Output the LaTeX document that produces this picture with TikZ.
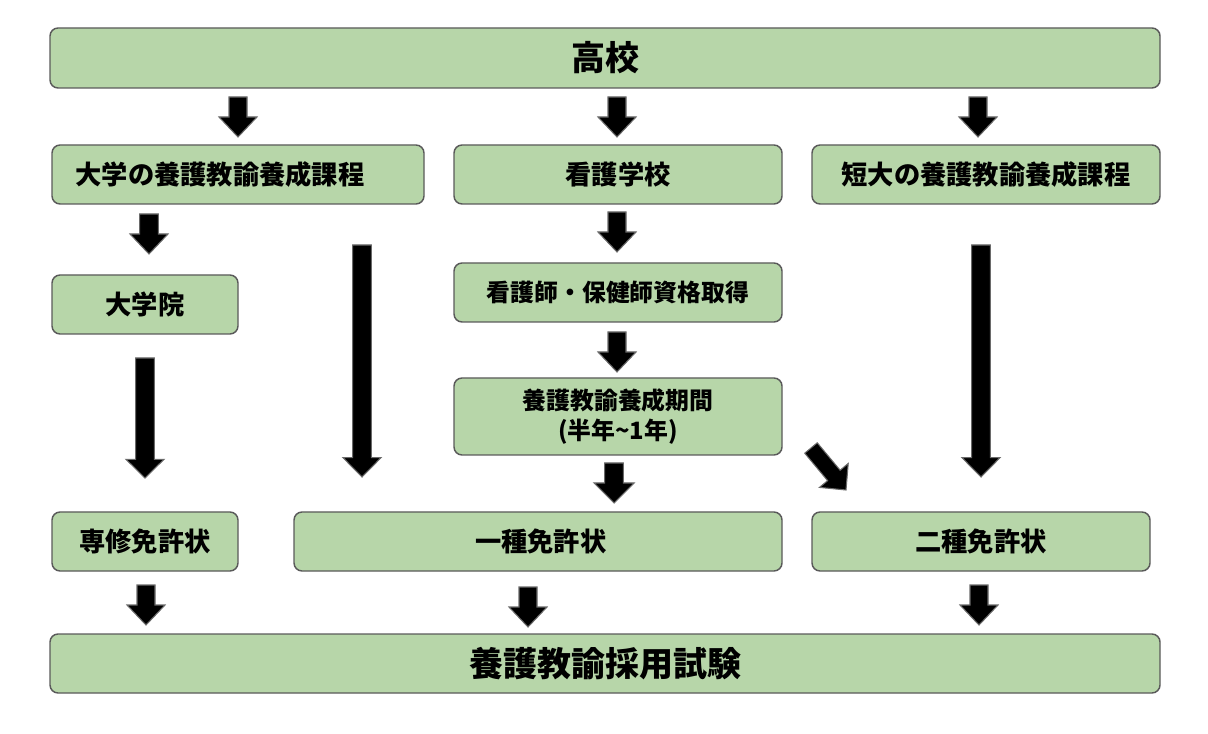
\documentclass[tikz,border=0pt]{standalone}
\usepackage{fontspec}
\setmainfont{Noto Sans CJK JP}
\usetikzlibrary{calc}
\definecolor{boxfill}{HTML}{B7D6A9}
\definecolor{boxline}{HTML}{5A5A5A}
\definecolor{arrline}{HTML}{6A6A6A}
\tikzset{
  box/.style={draw=boxline, fill=boxfill, line width=1.1pt, rounded corners=6pt,
    inner sep=0pt, outer sep=0pt, align=center, font=\bfseries},
  bigtext/.style={font=\bfseries\fontsize{25.5}{29}\selectfont},
  midtext/.style={font=\bfseries\fontsize{19.7}{23}\selectfont},
  smalltext/.style={font=\bfseries\fontsize{17.9}{23}\selectfont},
  blockarr/.style={fill=black, draw=arrline, line width=0.8pt, line join=miter},
}
% #1 start, #2 end, #3 shaft half width, #4 head half width, #5 head length
\newcommand\barr[5]{%
  \coordinate (hb) at ($(#2)!#5!(#1)$);
  \path[blockarr] ($(#1)!#3!90:(#2)$) -- ($(hb)!#3!-90:(#1)$) -- ($(hb)!#4!-90:(#1)$)
    -- (#2) -- ($(hb)!#4!90:(#1)$) -- ($(hb)!#3!90:(#1)$) -- ($(#1)!#3!-90:(#2)$) -- cycle;}
\newcommand\bx[7]{% style, name, x1, y1, x2, y2, text
  \node[box, #1, anchor=north west, minimum width={(#5-#3)*0.75pt}, minimum height={(#6-#4)*0.75pt}]
    (#2) at (#3,#4) {#7};}
\begin{document}
\begin{tikzpicture}[x=0.75pt, y=-0.75pt]
\useasboundingbox (0,0) rectangle (1208,734);
\bx{bigtext}{koko}{50}{28}{1160}{88}{高校}
\bx{midtext}{dai}{52}{145}{424}{204}{大学の養護教諭養成課程\hspace*{27pt}}
\bx{midtext}{kango}{454}{145}{782}{204}{看護学校}
\bx{midtext}{tandai}{812}{145}{1160}{204}{短大の養護教諭養成課程}
\bx{midtext}{in}{52}{275}{238}{334}{大学院}
\bx{smalltext}{shikaku}{454}{263}{782}{322}{看護師・保健師資格取得}
\bx{smalltext}{kikan}{454}{378}{782}{455}{養護教諭養成期間\\(半年\textasciitilde1年)}
\bx{midtext}{senshu}{52}{512}{238}{571}{専修免許状}
\bx{midtext}{isshu}{294}{512}{782}{571}{\hspace*{4pt}一種免許状}
\bx{midtext}{nishu}{812}{512}{1150}{571}{二種免許状}
\bx{bigtext}{shiken}{50}{634}{1160}{693}{養護教諭採用試験}
% connector end points
\coordinate (a1s) at ($(dai.north |- koko.south)+(0,9)$);
\coordinate (a1e) at ($(dai.north)+(0,-8)$);
\coordinate (a2s) at ($(kango.north |- koko.south)+(-1,9)$);
\coordinate (a2e) at ($(kango.north)+(-1,-8)$);
\coordinate (a3s) at ($(tandai.north |- koko.south)+(-8,9)$);
\coordinate (a3e) at ($(tandai.north)+(-8,-8)$);
\coordinate (a4s) at ($(in.north |- dai.south)+(4,10)$);
\coordinate (a4e) at ($(in.north)+(4,-21)$);
\coordinate (a5s) at ($(kango.south)+(-1,8)$);
\coordinate (a5e) at ($(shikaku.north)+(-1,-11)$);
\coordinate (a6s) at ($(shikaku.south)+(-1,10)$);
\coordinate (a6e) at ($(kikan.north)+(-1,-6)$);
\coordinate (a7s) at ($(kikan.south)+(-4,8)$);
\coordinate (a7e) at ($(kikan.south)+(-4,48)$);
\coordinate (a8s) at ($(in.south)+(0,24)$);
\coordinate (a8e) at ($(senshu.north)+(0,-34)$);
\coordinate (a9s) at ($(dai.south)+(124,41)$);
\coordinate (a9e) at ($(isshu.north -| a9s)+(0,-35)$);
\coordinate (a10s) at ($(tandai.south)+(-5,41)$);
\coordinate (a10e) at ($(nishu.north -| a10s)+(0,-35)$);
\coordinate (a11s) at ($(kikan.south east)+(29,-7)$);
\coordinate (a11e) at ($(kikan.south east)+(64,35)$);
\coordinate (a12s) at ($(senshu.south)+(1,14)$);
\coordinate (a12e) at ($(shiken.north -| a12s)+(0,-9)$);
\coordinate (a13s) at ($(isshu.south)+(-10,16)$);
\coordinate (a13e) at ($(shiken.north -| a13s)+(0,-7)$);
\coordinate (a14s) at ($(nishu.south)+(-2,14)$);
\coordinate (a14e) at ($(shiken.north -| a14s)+(0,-9)$);
% block arrows
\barr{a1s}{a1e}{6.75pt}{14.25pt}{15pt}
\barr{a2s}{a2e}{6.75pt}{14.25pt}{15pt}
\barr{a3s}{a3e}{6.75pt}{14.25pt}{15pt}
\barr{a4s}{a4e}{7pt}{14.25pt}{15pt}
\barr{a5s}{a5e}{6.75pt}{14.25pt}{15pt}
\barr{a6s}{a6e}{6.75pt}{14.25pt}{15pt}
\barr{a7s}{a7e}{7pt}{15pt}{15pt}
\barr{a8s}{a8e}{7pt}{14.25pt}{14pt}
\barr{a9s}{a9e}{7pt}{14.25pt}{14.5pt}
\barr{a10s}{a10e}{7pt}{14.25pt}{14.5pt}
\barr{a11s}{a11e}{6.1pt}{14pt}{14.2pt}
\barr{a12s}{a12e}{6.75pt}{14.25pt}{15pt}
\barr{a13s}{a13e}{6.75pt}{14.25pt}{15pt}
\barr{a14s}{a14e}{6.75pt}{14.25pt}{15pt}
\end{tikzpicture}
\end{document}
